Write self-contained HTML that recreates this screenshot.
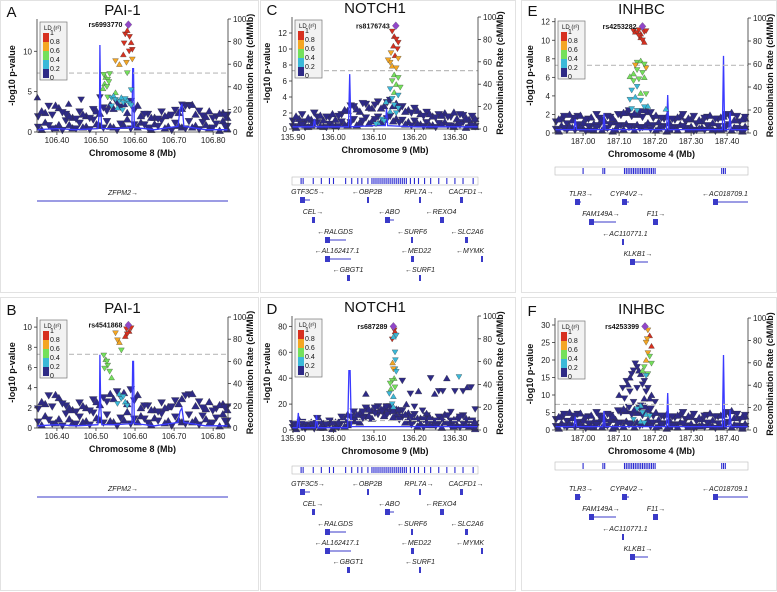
<!DOCTYPE html>
<html><head><meta charset="utf-8">
<style>
html,body{margin:0;padding:0;background:#fff;}
svg{display:block;font-family:"Liberation Sans",sans-serif;}
</style></head>
<body>
<svg id="fig" width="777" height="592" viewBox="0 0 777 592" xmlns="http://www.w3.org/2000/svg"></svg>
<script>
// ---------- DATA ----------
const AB_bgPos=[106.352,106.37,106.388,106.405,106.423,106.44,106.458,106.475,106.493,106.51,106.528,106.545,106.563,106.58,106.598,106.615,106.633,106.65,106.668,106.685,106.703,106.72,106.738,106.755,106.773,106.79,106.808,106.825,106.836];
const AB_bgLow=[0.6,1.2,0.4,0.9,1.4,0.5,1.1,0.7,1.5,0.8,1.3,0.6,1.0,1.6,0.9,1.2,0.5,1.0,1.4,0.7,1.1,0.6,1.3,0.8,1.2,0.5,1.0,1.4,0.7];
const AB_bgMid=[1.9,2.4,2.1,3.0,2.2,1.8,2.5,2.0,2.8,2.3,2.6,2.9,3.1,2.4,2.7,2.0,2.2,1.8,2.5,2.1,2.7,2.9,3.3,2.2,2.0,2.6,1.9,2.4,2.1];
const AB_bgBase=[0.3,0.8,0.5,0.2,0.9,0.4,0.6,0.3,1.0,0.5,0.7,0.2,0.8,0.4,0.6,0.9,0.3,0.7,0.5,0.2,0.8,0.4,0.6,0.3,0.9,0.5,0.2,0.7,0.4];
const AB_bgTop=[2.6,3.2,3.3,2.4,2.0,1.6,2.2,1.7,2.6,3.0,3.4,3.6,3.5,3.8,3.3,2.2,1.8,1.6,2.0,2.1,2.4,3.2,3.4,2.6,1.9,1.7,2.3,2.0,1.8];
const A_extraPos=[106.35,106.462,106.51,106.43,106.72,106.74];
const A_extraP=[4.3,4.0,4.3,3.5,3.4,3.2];
const A_snpPos=[106.575,106.58,106.586,106.572,106.59,106.593,106.585,106.57,106.593,106.55,106.56,106.578,106.52,106.525,106.53,106.535,106.522,106.528,106.533,106.518,106.58,106.59,106.55,106.53,106.54,106.545,106.55,106.56,106.565,106.57,106.575,106.58,106.585,106.59,106.555,106.568,106.54];
const A_snpP=[12.1,12.6,11.8,11.0,11.1,10.2,10.0,9.6,9.0,8.8,8.4,8.6,7.1,6.8,6.5,7.2,6.0,5.6,6.2,5.4,7.3,5.2,4.9,4.3,4.2,4.5,4.0,3.8,4.3,3.6,4.1,3.9,3.5,3.3,3.0,2.7,3.2];
const A_snpLD=[5,5,5,5,5,5,5,5,4,4,4,4,3,3,3,3,3,3,3,3,3,2,3,3,2,2,2,2,2,2,2,2,2,2,2,2,2];
const A_recPos=[106.349,106.40,106.45,106.505,106.509,106.51,106.512,106.515,106.55,106.592,106.594,106.596,106.598,106.65,106.71,106.715,106.72,106.725,106.78,106.838];
const A_recRate=[2,3,2,3,20,77,20,3,3,4,56,56,4,2,5,20,25,5,2,2];

const B_snpPos=[106.578,106.585,106.59,106.58,106.575,106.55,106.555,106.56,106.565,106.52,106.525,106.53,106.535,106.54,106.522,106.528,106.56,106.565,106.57,106.575,106.555,106.58];
const B_snpP=[9.8,9.6,9.9,9.3,9.1,9.4,8.7,8.5,7.7,7.2,6.8,6.2,5.6,5.0,5.9,6.6,3.4,2.9,3.1,2.6,2.4,2.2];
const B_snpLD=[5,5,5,5,5,4,4,4,3,3,3,3,3,3,3,3,2,2,2,2,2,2];
const B_recPos=[106.349,106.40,106.45,106.505,106.509,106.51,106.512,106.515,106.55,106.592,106.594,106.596,106.598,106.65,106.71,106.715,106.72,106.725,106.78,106.838];
const B_recRate=[2,3,2,3,20,66,20,3,3,4,60,60,4,2,5,15,18,5,2,2];

const CD_bgPos=[135.90,135.915,135.93,135.945,135.96,135.975,135.99,136.005,136.02,136.035,136.05,136.065,136.08,136.095,136.11,136.125,136.14,136.155,136.17,136.185,136.2,136.215,136.23,136.245,136.26,136.275,136.29,136.305,136.32,136.335,136.35];
const C_bgLow=[0.3,0.6,0.2,0.5,0.8,0.3,0.6,0.4,0.9,0.5,1.2,0.8,1.4,1.0,1.5,1.2,1.6,1.3,1.1,0.9,1.0,0.6,0.8,0.5,0.7,0.9,0.4,0.6,0.8,0.5,0.3];
const C_bgMid=[1.0,1.3,0.9,1.2,1.5,1.1,1.4,1.2,1.8,2.3,2.8,2.2,3.1,2.6,3.4,2.9,3.6,3.2,2.8,2.4,2.6,1.9,2.1,1.6,1.8,2.0,1.5,1.3,1.7,1.2,1.0];
const C_bgBase=[0.2,0.5,0.3,0.7,0.4,0.2,0.5,0.3,0.6,0.8,0.5,1.0,0.7,1.2,0.9,1.3,1.0,0.8,0.6,0.4,0.7,0.3,0.5,0.2,0.6,0.4,0.3,0.5,0.2,0.4,0.3];
const C_bgTop=[1.6,1.8,1.4,2.0,1.7,1.5,1.9,1.6,2.4,2.9,2.5,3.2,2.7,3.0,2.6,3.3,2.9,2.5,2.2,2.0,2.3,1.6,1.9,1.4,1.7,1.5,2.1,1.8,1.4,1.6,1.3];
const C_snpPos=[136.145,136.15,136.155,136.16,136.148,136.158,136.142,136.152,136.16,136.14,136.145,136.155,136.135,136.15,136.16,136.145,136.155,136.165,136.14,136.15,136.16,136.145,136.13,136.15,136.16,136.14,136.155,136.12,136.11,136.125,136.105];
const C_snpP=[12.2,11.6,11.2,10.8,10.4,10.0,9.5,9.2,8.8,8.3,7.9,7.6,8.6,6.8,6.4,6.0,5.6,5.2,5.0,4.6,4.2,3.8,3.4,3.0,2.6,2.2,2.0,1.2,0.8,1.0,0.6];
const C_snpLD=[5,5,5,5,5,5,4,5,4,4,4,4,4,3,3,3,3,3,2,3,2,2,2,2,2,2,2,2,2,2,2];
const C_recPos=[135.8975,135.95,135.953,135.956,136.0,136.037,136.04,136.043,136.1,136.128,136.131,136.134,136.2,136.357];
const C_recRate=[2,2,9,2,2,2,49,2,3,3,18,3,2,2];

const D_bgLow=[2,4,1,3,5,2,4,3,6,4,8,6,10,9,12,11,14,12,10,8,7,5,6,4,5,6,3,4,5,3,2];
const D_bgMid=[5,8,4,6,9,5,7,6,10,12,14,13,17,15,18,17,18,16,15,13,12,9,11,8,10,12,7,9,11,8,5];
const D_bgBase=[1,2,3,1,2,4,1,2,3,5,7,9,11,13,15,12,10,8,6,4,3,2,4,3,2,5,3,2,4,2,1];
const D_bgTop=[4,6,3,5,7,4,6,5,8,10,12,14,16,17,16,18,15,14,12,10,9,8,10,7,9,11,8,10,9,7,6];
const D_extraPos=[136.08,136.17,136.19,136.21,136.24,136.26,136.28,136.30,136.32,136.33,136.34,136.27,136.25,136.20,136.22,136.18,136.29,136.35,136.16,136.13,136.12,136.23];
const D_extraP=[28,38,28,30,40,30,40,30,30,33,33,30,28,18,15,20,14,16,16,18,14,13];
const D_snpPos=[136.15,136.152,136.145,136.155,136.148,136.152,136.153,136.146,136.152,136.148,136.15,136.145,136.14,136.142,136.152,136.138,136.148,136.155,136.145,136.148,136.31];
const D_snpP=[77,76,70,73,72,60,54,52,47,47,40,38,36,32,33,28,26,45,20,18,41];
const D_snpLD=[5,5,5,2,2,2,2,4,2,4,3,3,3,3,3,2,2,2,2,2,2];
const D_recPos=[135.8975,135.91,135.913,135.916,135.95,135.955,135.958,135.961,136.0,136.035,136.038,136.041,136.044,136.1,136.2,136.357];
const D_recRate=[2,2,15,2,2,2,13,2,2,2,52,52,3,3,3,3];

const EF_bgPos=[186.925,186.94,186.955,186.97,186.985,187.0,187.015,187.03,187.045,187.06,187.075,187.09,187.105,187.12,187.135,187.15,187.165,187.18,187.195,187.21,187.225,187.24,187.255,187.27,187.285,187.3,187.315,187.33,187.345,187.36,187.375,187.39,187.405,187.42,187.435,187.45];
const E_bgLow=[0.4,0.8,0.3,0.6,0.9,0.5,0.7,0.3,0.8,0.6,0.9,0.4,0.8,1.0,0.7,0.9,0.6,1.1,0.8,0.5,0.7,0.4,0.6,0.9,0.5,0.7,0.3,0.6,0.8,0.4,0.7,0.5,0.9,0.6,0.4,0.7];
const E_bgMid=[1.2,1.6,1.0,1.4,1.8,1.1,1.5,1.0,1.6,1.3,1.7,1.2,1.9,2.2,1.8,2.0,1.7,2.3,1.6,1.2,1.5,1.1,1.4,1.8,1.2,1.5,1.0,1.3,1.7,1.1,1.5,1.8,1.9,1.4,1.2,1.6];
const E_bgBase=[0.2,0.5,0.7,0.3,0.6,0.2,0.4,0.6,0.3,0.5,0.2,0.7,0.4,0.6,0.3,0.5,0.8,0.4,0.3,0.6,0.2,0.5,0.3,0.7,0.4,0.2,0.5,0.3,0.6,0.2,0.4,0.7,0.3,0.5,0.2,0.4];
const E_bgTop=[1.5,1.8,2.0,1.6,1.9,1.4,1.7,2.0,1.5,1.8,1.6,2.0,2.2,2.4,2.1,2.3,2.5,2.2,1.9,1.6,1.8,1.5,1.7,2.0,1.6,1.8,1.4,1.6,1.9,1.5,1.7,2.0,2.2,1.8,1.5,1.7];
const E_snpPos=[187.14,187.145,187.15,187.155,187.16,187.17,187.175,187.16,187.165,187.155,187.17,187.15,187.145,187.16,187.175,187.17,187.14,187.15,187.165,187.13,187.14,187.155,187.17,187.135,187.15,187.16,187.175,187.13,187.145,187.16,187.17,187.18,187.135,187.15,187.23];
const E_snpP=[11.0,10.9,10.8,11.1,10.7,10.9,11.0,10.3,10.0,10.5,9.8,7.6,7.3,7.8,7.0,7.4,6.4,6.8,6.5,6.1,5.6,5.8,6.0,4.6,5.0,4.3,4.2,3.6,3.9,3.5,2.8,2.9,2.6,2.4,2.6];
const E_snpLD=[5,5,5,5,5,5,5,5,5,5,5,3,4,3,4,3,3,3,3,3,3,3,3,2,2,3,3,2,2,2,2,2,2,2,2];
const EF_recPos=[186.922,186.975,186.978,186.982,187.055,187.058,187.061,187.1,187.2,187.232,187.235,187.238,187.3,187.387,187.39,187.393,187.405,187.408,187.411,187.458];
const E_recRate=[3,3,12,3,3,17,3,3,3,3,33,3,3,3,67,3,3,18,3,3];

const F_bgLow=[1,2,0.8,1.5,2.2,1.2,1.8,0.8,2,1.5,2.2,1,2,2.5,1.8,2.2,1.5,2.8,2,1.2,1.8,1,1.5,2.2,1.2,1.8,0.8,1.5,2,1,1.8,1.2,2.2,1.5,1,1.8];
const F_bgMid=[3,4,2.5,3.5,4.5,2.8,3.8,2.5,4,3.2,4.2,3,5,5.5,4.5,5,4.2,5.8,4,3,3.8,2.8,3.5,4.5,3,3.8,2.5,3.2,4.2,2.8,3.8,4.5,4.8,3.5,3,4];
const F_bgBase=[0.5,1.2,1.8,0.8,1.5,0.5,1,1.5,0.8,1.2,0.5,1.8,1,1.5,0.8,1.2,2,1,0.8,1.5,0.5,1.2,0.8,1.8,1,0.5,1.2,0.8,1.5,0.5,1,1.8,0.8,1.2,0.5,1];
const F_bgTop=[3.8,4.5,5,4,4.8,3.5,4.2,5,3.8,4.5,4,5.5,6,6.5,5.8,6.2,6.8,6,5,4,4.5,3.8,4.2,5,4,4.5,3.5,4,4.8,3.8,4.2,5,5.5,4.5,3.8,4.2];
const F_extraPos=[187.1,187.11,187.12,187.13,187.14,187.15,187.16,187.17,187.18,187.19,187.2,187.115,187.125,187.135,187.145,187.155,187.165,187.175,187.185,187.13,187.15,187.17,187.14,187.16];
const F_extraP=[10,12,14,15,17,18,16,14,12,10,8,9,13,16,19,17,13,11,9,11,12,9,8,7];
const F_snpPos=[187.18,187.185,187.178,187.175,187.19,187.18,187.185,187.175,187.19,187.17,187.165,187.18,187.175,187.16,187.15,187.165,187.175,187.185,187.14,187.16,187.17];
const F_snpP=[28.5,27,26,25,24,22,21,20,19,18,17,16,15.5,7,6,5,4.5,4,3,2.5,2];
const F_snpLD=[4,5,4,4,5,4,3,4,3,3,3,3,2,2,2,2,2,2,2,2,2];
const F_recRate=[3,3,12,3,3,17,3,3,3,3,33,3,3,3,67,3,3,18,3,3];

const CD_density=[135.92,135.925,135.95,135.97,135.99,136.0,136.03,136.045,136.06,136.07,136.085,136.095,136.1,136.105,136.11,136.115,136.12,136.125,136.13,136.135,136.14,136.145,136.15,136.155,136.16,136.165,136.17,136.175,136.18,136.19,136.2,136.21,136.225,136.24,136.26,136.28,136.3,136.32,136.345];
const EF_density=[187.0,187.055,187.06,187.115,187.12,187.125,187.13,187.135,187.14,187.145,187.15,187.155,187.16,187.165,187.17,187.175,187.18,187.185,187.19,187.195,187.2,187.385,187.39,187.395];

// ---------- DRAWING ----------
const NS='http://www.w3.org/2000/svg';
const svg=document.getElementById('fig');
const LDC={1:'#2e2a86',2:'#3bb8d8',3:'#74e05b',4:'#f4a623',5:'#d7301f'};
function mk(tag,attrs,parent){const e=document.createElementNS(NS,tag);for(const k in attrs)e.setAttribute(k,attrs[k]);(parent||svg).appendChild(e);return e;}
function txt(s,x,y,attrs,parent){const t=mk('text',Object.assign({x:x,y:y},attrs),parent);t.textContent=s;return t;}
function tri(g,x,y,s,fill,down){const h=s/2;const pts=down?`${x-h},${y-h*0.8} ${x+h},${y-h*0.8} ${x},${y+h*0.9}`:`${x-h},${y+h*0.8} ${x+h},${y+h*0.8} ${x},${y-h*0.9}`;return mk('polygon',{points:pts,fill:fill,stroke:'#333','stroke-width':0.3},g);}

function panel(c){
  const g=mk('g',{});
  
  
  const border=mk('rect',{x:c.bx,y:c.by,width:c.bw,height:c.bh,fill:'none',stroke:'#e2e2e2','stroke-width':1},g);
  
  const X=v=>c.px+(v-c.xmin)/(c.xmax-c.xmin)*c.pw;
  const Y=v=>c.pt+c.ph-v/c.ymax*c.ph;
  const R=v=>c.pt+c.ph-v/100*c.ph;
  const bottom=c.pt+c.ph;
  const letter=txt(c.lab,c.bx+6,c.pt-2,{'font-size':15,fill:'#111'},g);
  
  const title=txt(c.title,c.px+c.pw/2-10,c.pt-4,{'font-size':15,'text-anchor':'middle',fill:'#111'},g);
  
  const plot=mk('g',{},g);
  
  // background navy SNPs
  const n=c.bgPos.length;
  const mids=c.bgPos.map((v,i)=>i<n-1?(v+c.bgPos[i+1])/2:v);
  c.bgArrays.forEach(arr=>{arr.forEach((p,i)=>{const m=tri(plot,X(c.bgPos[i]),Y(p),8,LDC[1],i%2===0);});});
  c.bgMidArrays.forEach(arr=>{arr.forEach((p,i)=>{const m=tri(plot,X(mids[i]),Y(p),8,LDC[1],i%2===1);});});
  if(c.exPos){c.exPos.forEach((v,i)=>{const m=tri(plot,X(v),Y(c.exP[i]),7,LDC[1],i%3!==0);});}
  const d=c.recPos.map((v,i)=>(i?'L':'M')+X(v).toFixed(1)+','+R(c.recRate[i]).toFixed(1)).join(' ');
  const rl=mk('path',{d:d,fill:'none',stroke:'#3a3aff','stroke-width':1.3},plot);
  
  const th=mk('line',{x1:c.px,x2:c.px+c.pw,y1:Y(7.3),y2:Y(7.3),stroke:'#bbb','stroke-width':1.2,'stroke-dasharray':'5,3'},plot);
  
  c.snpPos.forEach((v,i)=>{const m=tri(plot,X(v),Y(c.snpP[i]),6,LDC[c.snpLD[i]],i%3!==1);});
  const lx=X(c.leadPos),ly=Y(c.leadP);
  const lead=mk('polygon',{points:`${lx},${ly-4} ${lx+3.5},${ly} ${lx},${ly+4} ${lx-3.5},${ly}`,fill:'#9146c8',stroke:'#555','stroke-width':0.3},plot);
  
  const ln=txt(c.leadName,lx-6,ly+2.5,{'font-size':7,'font-weight':'bold','text-anchor':'end',fill:'#111'},plot);
  
  const ax=mk('g',{stroke:'#333','stroke-width':0.8,fill:'none'},g);
  
  mk('line',{x1:c.px,x2:c.px,y1:c.pt,y2:bottom},ax);
  mk('line',{x1:c.px+c.pw,x2:c.px+c.pw,y1:c.pt,y2:bottom},ax);
  mk('line',{x1:c.px,x2:c.px+c.pw,y1:bottom,y2:bottom},ax);
  c.yticks.forEach(t=>{mk('line',{x1:c.px-3,x2:c.px,y1:Y(t),y2:Y(t)},ax);const l=txt(String(t),c.px-5,Y(t)+3,{'font-size':8,'text-anchor':'end',fill:'#222',stroke:'none'},g);});
  [0,20,40,60,80,100].forEach(t=>{mk('line',{x1:c.px+c.pw,x2:c.px+c.pw+3,y1:R(t),y2:R(t)},ax);const l=txt(String(t),c.px+c.pw+5,R(t)+3,{'font-size':8,fill:'#222',stroke:'none'},g);});
  c.xticks.forEach(t=>{mk('line',{x1:X(t),x2:X(t),y1:bottom,y2:bottom+3},ax);const l=txt(t.toFixed(2),X(t),bottom+11,{'font-size':8,'text-anchor':'middle',fill:'#222',stroke:'none'},g);});
  const xl=txt(c.chr,c.px+c.pw/2,bottom+24,{'font-size':9,'font-weight':'bold','text-anchor':'middle',fill:'#111'},g);
  
  const yl=txt('-log10 p-value',0,0,{'font-size':9,'font-weight':'bold','text-anchor':'middle',fill:'#111',transform:`translate(${c.px-22},${c.pt+c.ph/2}) rotate(-90)`},g);
  
  const rt=txt('Recombination Rate (cM/Mb)',0,0,{'font-size':9,'font-weight':'bold','text-anchor':'middle',fill:'#111',transform:`translate(${c.px+c.pw+25},${c.pt+c.ph/2}) rotate(-90)`},g);
  
  const lg=mk('g',{},g);
  
  mk('rect',{x:c.px+3,y:c.pt+3,width:27,height:58,fill:'#f2f2f2',stroke:'#777','stroke-width':0.7},lg);
  txt('LD (r²)',c.px+7,c.pt+11,{'font-size':6,fill:'#111'},lg);
  [5,4,3,2,1].forEach((k,i)=>{mk('rect',{x:c.px+6,y:c.pt+14+i*9,width:6,height:9,fill:LDC[k]},lg);});
  ['1','0.8','0.6','0.4','0.2','0'].forEach((s,i)=>{txt(s,c.px+13,c.pt+16+i*9,{'font-size':7,fill:'#111'},lg);});
  const gt=mk('g',{},g);
  
  if(c.density){
    mk('rect',{x:c.px,y:c.dy,width:c.pw,height:8,fill:'none',stroke:'#bbb','stroke-width':0.6},gt);
    c.density.forEach(v=>mk('line',{x1:X(v),x2:X(v),y1:c.dy+1,y2:c.dy+7,stroke:'#2a2ad0','stroke-width':1.1},gt));
  }
  c.genes.forEach(gn=>{
    const t=txt(gn[0],gn[1],gn[2],{'font-size':7,'font-style':'italic','text-anchor':'middle',fill:'#222'},gt);
    
    const x1=gn[3],x2=gn[4],gy=gn[2]+6;
    if(x2-x1>3)mk('line',{x1:x1,x2:x2,y1:gy,y2:gy,stroke:'#3a3ac8','stroke-width':1},gt);
    if(x2-x1<=40)mk('rect',{x:x1,y:gy-3,width:Math.max(2,Math.min(5,x2-x1)),height:6,fill:'#3a3ac8'},gt);
  });
}

const genesC=[['GTF3C5→',308,194,300,310],['←OBP2B',367,194,367,368],['RPL7A→',419,194,419,420],['CACFD1→',466,194,460,463],
['CEL→',313,214,312,315],['←ABO',389,214,385,394],['←REXO4',441,214,440,444],['←RALGDS',335,234,325,346],['←SURF6',412,234,411,413],['←SLC2A6',467,234,465,468],
['←AL162417.1',337,253,325,351],['←MED22',416,253,411,414],['←MYMK',470,253,481,483],['←GBGT1',348,272,347,350],['←SURF1',420,272,419,421]];
const shift=(arr,dy)=>arr.map(a=>[a[0],a[1],a[2]+dy,a[3],a[4]]);
const genesE=[['TLR3→',581,196,575,581],['CYP4V2→',627,196,622,629],['←AC018709.1',725,196,713,748],['FAM149A→',601,216,589,616],['F11→',656,216,653,658],['←AC110771.1',625,236,622,623],['KLKB1→',638,256,630,648]];

panel({lab:'A',title:'PAI-1',bx:0.5,by:0.5,bw:258,bh:292,px:37,pt:19,pw:191,ph:113,ymax:14,yticks:[0,5,10],xmin:106.349,xmax:106.838,xticks:[106.40,106.50,106.60,106.70,106.80],chr:'Chromosome 8 (Mb)',
 bgPos:AB_bgPos,bgArrays:[AB_bgLow,AB_bgMid],bgMidArrays:[AB_bgBase,AB_bgTop],exPos:A_extraPos,exP:A_extraP,snpPos:A_snpPos,snpP:A_snpP,snpLD:A_snpLD,leadPos:106.583,leadP:13.3,leadName:'rs6993770',recPos:A_recPos,recRate:A_recRate,
 genes:[['ZFPM2→',123,195,37,228]]});
panel({lab:'B',title:'PAI-1',bx:0.5,by:297.5,bw:258,bh:293,px:37,pt:317,pw:191,ph:111,ymax:11,yticks:[0,2,4,6,8,10],xmin:106.349,xmax:106.838,xticks:[106.40,106.50,106.60,106.70,106.80],chr:'Chromosome 8 (Mb)',
 bgPos:AB_bgPos,bgArrays:[AB_bgLow,AB_bgMid],bgMidArrays:[AB_bgBase,AB_bgTop],snpPos:B_snpPos,snpP:B_snpP,snpLD:B_snpLD,leadPos:106.583,leadP:10.2,leadName:'rs4541868',recPos:B_recPos,recRate:B_recRate,
 genes:[['ZFPM2→',123,491,37,228]]});
panel({lab:'C',title:'NOTCH1',bx:260.5,by:0.5,bw:255,bh:292,px:292,pt:17,pw:186,ph:112,ymax:14,yticks:[0,2,4,6,8,10,12],xmin:135.8975,xmax:136.357,xticks:[135.90,136.00,136.10,136.20,136.30],chr:'Chromosome 9 (Mb)',
 bgPos:CD_bgPos,bgArrays:[C_bgLow,C_bgMid],bgMidArrays:[C_bgBase,C_bgTop],snpPos:C_snpPos,snpP:C_snpP,snpLD:C_snpLD,leadPos:136.154,leadP:12.9,leadName:'rs8176743',recPos:C_recPos,recRate:C_recRate,
 density:CD_density,dy:177,genes:genesC});
panel({lab:'D',title:'NOTCH1',bx:260.5,by:297.5,bw:255,bh:293,px:292,pt:316,pw:186,ph:114,ymax:88,yticks:[0,20,40,60,80],xmin:135.8975,xmax:136.357,xticks:[135.90,136.00,136.10,136.20,136.30],chr:'Chromosome 9 (Mb)',
 bgPos:CD_bgPos,bgArrays:[D_bgLow,D_bgMid],bgMidArrays:[D_bgBase,D_bgTop],exPos:D_extraPos,exP:D_extraP,snpPos:D_snpPos,snpP:D_snpP,snpLD:D_snpLD,leadPos:136.148,leadP:80,leadName:'rs687289',recPos:D_recPos,recRate:D_recRate,
 density:CD_density,dy:466,genes:shift(genesC,292)});
panel({lab:'E',title:'INHBC',bx:521.5,by:0.5,bw:255,bh:292,px:555,pt:18,pw:193,ph:115,ymax:12.4,yticks:[0,2,4,6,8,10,12],xmin:186.922,xmax:187.458,xticks:[187.00,187.10,187.20,187.30,187.40],chr:'Chromosome 4 (Mb)',
 bgPos:EF_bgPos,bgArrays:[E_bgLow,E_bgMid],bgMidArrays:[E_bgBase,E_bgTop],snpPos:E_snpPos,snpP:E_snpP,snpLD:E_snpLD,leadPos:187.165,leadP:11.5,leadName:'rs4253282',recPos:EF_recPos,recRate:E_recRate,
 density:EF_density,dy:167,genes:genesE});
panel({lab:'F',title:'INHBC',bx:521.5,by:297.5,bw:255,bh:293,px:555,pt:318,pw:193,ph:112,ymax:32,yticks:[0,5,10,15,20,25,30],xmin:186.922,xmax:187.458,xticks:[187.00,187.10,187.20,187.30,187.40],chr:'Chromosome 4 (Mb)',
 bgPos:EF_bgPos,bgArrays:[F_bgLow,F_bgMid],bgMidArrays:[F_bgBase,F_bgTop],exPos:F_extraPos,exP:F_extraP,snpPos:F_snpPos,snpP:F_snpP,snpLD:F_snpLD,leadPos:187.172,leadP:29.6,leadName:'rs4253399',recPos:EF_recPos,recRate:F_recRate,
 density:EF_density,dy:462,genes:shift(genesE,295)});
</script>
</body></html>
